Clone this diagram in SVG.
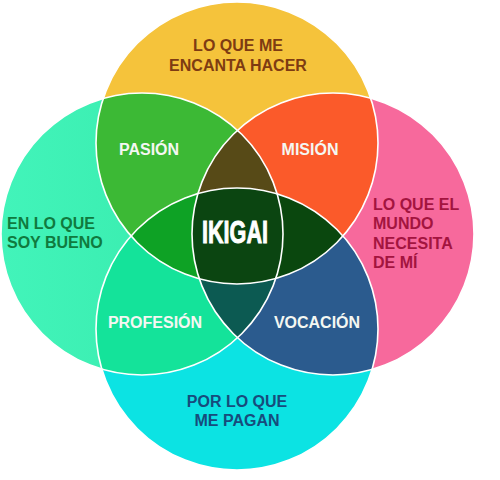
<svg xmlns="http://www.w3.org/2000/svg" width="500" height="480" viewBox="0 0 500 480">
  <style>
    text { font-family: "Liberation Sans", Arial, sans-serif; font-weight: bold; }
    .lbl { font-size: 16px; text-anchor: middle; }
    .wh { fill: #F4F7F2; font-size: 16px; text-anchor: middle; }
    .ring { fill: none; stroke: #FFFFFF; stroke-width: 1.6; }
  </style>
  <defs>
    <clipPath id="cT"><circle cx="237" cy="143" r="141"/></clipPath>
    <clipPath id="cL"><circle cx="142" cy="234" r="141"/></clipPath>
    <clipPath id="cR"><circle cx="333" cy="234" r="141"/></clipPath>
    <clipPath id="cB"><circle cx="237" cy="329" r="141"/></clipPath>
    <linearGradient id="gL" x1="0" y1="0" x2="1" y2="0">
      <stop offset="0" stop-color="#42F4BA"/>
      <stop offset="1" stop-color="#34E8A8"/>
    </linearGradient>
  </defs>
  <rect width="500" height="480" fill="#FFFFFF"/>

  <g id="circle-top"><circle cx="237" cy="143" r="141" fill="#F5C33B"/></g>
  <g id="circle-left"><circle cx="142" cy="234" r="141" fill="url(#gL)"/></g>
  <g id="circle-right"><circle cx="333" cy="234" r="141" fill="#F7699C"/></g>
  <g id="circle-bottom"><circle cx="237" cy="329" r="141" fill="#0CE3E3"/></g>

  <g id="pasion"><g clip-path="url(#cT)"><circle cx="142" cy="234" r="141" fill="#3CB935"/></g></g>
  <g id="mision"><g clip-path="url(#cT)"><circle cx="333" cy="234" r="141" fill="#FB5A2A"/></g></g>
  <g id="profesion"><g clip-path="url(#cB)"><circle cx="142" cy="234" r="141" fill="#14E39A"/></g></g>
  <g id="vocacion"><g clip-path="url(#cB)"><circle cx="333" cy="234" r="141" fill="#2B5B8E"/></g></g>

  <g id="tri-top"><g clip-path="url(#cT)"><g clip-path="url(#cL)"><circle cx="333" cy="234" r="141" fill="#574A17"/></g></g></g>
  <g id="tri-left"><g clip-path="url(#cT)"><g clip-path="url(#cL)"><circle cx="237" cy="329" r="141" fill="#0EA225"/></g></g></g>
  <g id="tri-right"><g clip-path="url(#cT)"><g clip-path="url(#cR)"><circle cx="237" cy="329" r="141" fill="#0A470E"/></g></g></g>
  <g id="tri-bottom"><g clip-path="url(#cB)"><g clip-path="url(#cL)"><circle cx="333" cy="234" r="141" fill="#0C5A52"/></g></g></g>
  <g id="ikigai"><g clip-path="url(#cT)"><g clip-path="url(#cB)"><g clip-path="url(#cL)"><circle cx="333" cy="234" r="141" fill="#0B4511"/></g></g></g></g>

  <g id="outlines">
    <circle class="ring" cx="237" cy="143" r="141"/>
    <circle class="ring" cx="142" cy="234" r="141"/>
    <circle class="ring" cx="333" cy="234" r="141"/>
    <circle class="ring" cx="237" cy="329" r="141"/>
  </g>

  <g id="labels">
    <text class="lbl" x="238" y="51" fill="#7E3B12">LO QUE ME</text>
    <text class="lbl" x="238" y="71" fill="#7E3B12">ENCANTA HACER</text>
    <text x="7" y="229" font-size="16" fill="#107A3E">EN LO QUE</text>
    <text x="7" y="248" font-size="16" fill="#107A3E">SOY BUENO</text>
    <text x="373" y="210" font-size="16" fill="#A3143F">LO QUE EL</text>
    <text x="373" y="229" font-size="16" fill="#A3143F">MUNDO</text>
    <text x="373" y="249" font-size="16" fill="#A3143F">NECESITA</text>
    <text x="373" y="268" font-size="16" fill="#A3143F">DE MÍ</text>
    <text class="lbl" x="237" y="407" fill="#174C7C">POR LO QUE</text>
    <text class="lbl" x="237" y="426" fill="#174C7C">ME PAGAN</text>
    <text class="wh" x="149" y="155">PASIÓN</text>
    <text class="wh" x="310" y="155">MISIÓN</text>
    <text class="wh" x="155" y="328">PROFESIÓN</text>
    <text class="wh" x="317" y="328">VOCACIÓN</text>
    <text x="202" y="243" font-size="32" fill="#FFFFFF" stroke="#FFFFFF" stroke-width="1" textLength="66" lengthAdjust="spacingAndGlyphs">IKIGAI</text>
  </g>
</svg>
